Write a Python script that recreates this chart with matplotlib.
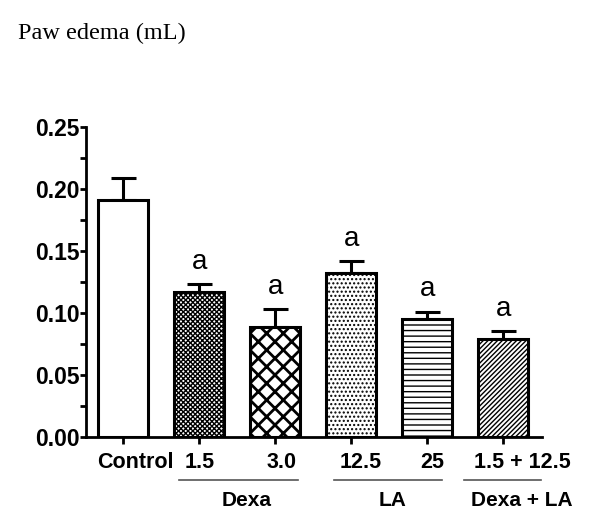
import matplotlib
matplotlib.use("Agg")
import matplotlib.pyplot as plt
import matplotlib.transforms as mtransforms
import numpy as np

categories = ["Control", "1.5", "3.0", "12.5", "25", "1.5 + 12.5"]
means = [0.191, 0.117, 0.089, 0.1325, 0.095, 0.079]
errors = [0.018, 0.006, 0.014, 0.0095, 0.006, 0.0065]
sig = ["", "a", "a", "a", "a", "a"]
hatches = [None, "xxxxxxx", "xx", "....", "---", "///////"]
groups = ["Dexa", "LA", "Dexa + LA"]
yticks = [0.00, 0.05, 0.10, 0.15, 0.20, 0.25]

# layout (label offsets in pixels, group line spans / label centres in x units)
label_dx = [12, 0, 6, 9, 5, 19]
group_spans = [(0.73, 2.3), (2.77, 4.2), (4.48, 5.50)]
group_text_x = [1.63, 3.55, 5.25]

fig = plt.figure(figsize=(6.0, 5.32), dpi=100)
ax = fig.add_axes([0.1433, 0.1786, 0.76, 0.5826])

x = np.arange(len(categories))
for i in range(len(categories)):
    b = ax.bar(x[i], means[i], width=0.66, color="white", edgecolor="black",
               linewidth=2.2, hatch=hatches[i], zorder=2)
    for p in b:
        if hasattr(p, "set_hatch_linewidth"):
            p.set_hatch_linewidth(2.0 if hatches[i] == "xx" else 1.0)
    ax.errorbar(x[i], means[i], yerr=[[0], [errors[i]]], fmt="none",
                ecolor="black", elinewidth=2.2, capsize=9, capthick=2.2, zorder=1)
    if sig[i]:
        ax.text(x[i], means[i] + errors[i] + 0.0075, sig[i], ha="center", va="bottom",
                fontsize=20, family="Liberation Sans")

ax.set_xlim(-0.49, 5.51)
ax.set_ylim(0, 0.25)
ax.set_yticks(yticks)
ax.set_yticklabels([f"{v:.2f}" for v in yticks])
ax.set_yticks(np.arange(0.025, 0.25, 0.05), minor=True)
ax.set_xticks(x)
ax.set_xticklabels(categories)
for s in ["top", "right"]:
    ax.spines[s].set_visible(False)
for s in ["left", "bottom"]:
    ax.spines[s].set_linewidth(2.0)
ax.tick_params(axis="x", which="major", width=2, length=5, labelsize=15.5, pad=6)
ax.tick_params(axis="y", which="major", width=2, length=4, labelsize=16.5, pad=0.5)
ax.tick_params(axis="y", which="minor", width=2, length=4)
for lab in ax.get_xticklabels() + ax.get_yticklabels():
    lab.set_fontweight("bold")
    lab.set_family("Liberation Sans")
for lab, dx in zip(ax.get_xticklabels(), label_dx):
    lab.set_transform(lab.get_transform() +
                      mtransforms.ScaledTranslation(dx / 100, 0, fig.dpi_scale_trans))

trans = ax.get_xaxis_transform()
for name, (x0, x1), tx in zip(groups, group_spans, group_text_x):
    ax.plot([x0, x1], [-0.139, -0.139], transform=trans, color="#555555",
            linewidth=1.2, clip_on=False)
    ax.text(tx, -0.205, name, transform=trans, ha="center", va="center",
            fontsize=15, fontweight="bold", family="Liberation Sans")

fig.text(0.03, 0.937, "Paw edema (mL)", ha="left", va="center", fontsize=17.5,
         family="Liberation Serif")

fig.savefig("out.png", dpi=100)
